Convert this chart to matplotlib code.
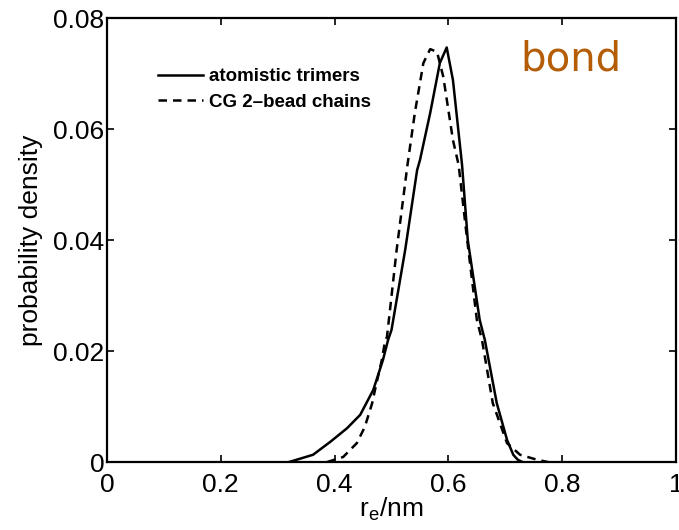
import matplotlib
matplotlib.use("Agg")
import matplotlib.pyplot as plt

plt.rcParams["font.family"] = ["Liberation Sans", "DejaVu Sans"]

# end-to-end distance distributions (r_e in nm)
r_atomistic = [0.32, 0.362, 0.392, 0.422, 0.445, 0.468, 0.485, 0.494, 0.50,
               0.524, 0.545, 0.55, 0.568, 0.585, 0.597, 0.608, 0.624, 0.634,
               0.655, 0.664, 0.685, 0.703, 0.714, 0.722, 0.73]
p_atomistic = [0.0, 0.0013, 0.0036, 0.0061, 0.0085, 0.013, 0.0184, 0.022, 0.0238,
               0.0382, 0.0526, 0.0544, 0.0629, 0.0719, 0.0747, 0.0688, 0.0535, 0.040,
               0.0256, 0.022, 0.0106, 0.004, 0.0013, 0.0004, 0.0]

r_cg = [0.387, 0.415, 0.439, 0.453, 0.466, 0.471, 0.483, 0.489, 0.492, 0.509,
        0.528, 0.541, 0.556, 0.568, 0.58, 0.591, 0.608, 0.618, 0.633, 0.650,
        0.659, 0.678, 0.703, 0.726, 0.756, 0.775]
p_cg = [0.0, 0.0009, 0.0034, 0.0063, 0.0106, 0.013, 0.0184, 0.022, 0.0225, 0.0382,
        0.0535, 0.0629, 0.0719, 0.0744, 0.0739, 0.0694, 0.058, 0.0535, 0.040, 0.0256,
        0.022, 0.0106, 0.0034, 0.0013, 0.0004, 0.0]

x_ticks = [0, 0.2, 0.4, 0.6, 0.8, 1]
x_labels = ["0", "0.2", "0.4", "0.6", "0.8", "1"]
y_ticks = [0, 0.02, 0.04, 0.06, 0.08]
y_labels = ["0", "0.02", "0.04", "0.06", "0.08"]

fig = plt.figure(figsize=(6.79, 5.30), dpi=100)
ax = fig.add_axes([0.1576, 0.1283, 0.838, 0.8377])

ax.plot(r_atomistic, p_atomistic, "-", color="black", lw=1.8,
        label="atomistic trimers")
ax.plot(r_cg, p_cg, "--", color="black", lw=1.8, dashes=(3.4, 2.4),
        label="CG 2\u2013bead chains")

ax.set_xlim(0, 1)
ax.set_ylim(0, 0.08)
ax.set_xticks(x_ticks)
ax.set_xticklabels(x_labels)
ax.set_yticks(y_ticks)
ax.set_yticklabels(y_labels)
ax.tick_params(direction="in", length=5, width=1.2, top=True, right=True,
               labelsize=19, pad=2)
ax.tick_params(axis="x", pad=8)
for sp in ax.spines.values():
    sp.set_linewidth(1.6)

ax.set_xlabel(r"r$_\mathregular{e}$/nm", fontsize=19, labelpad=-1)
ax.set_ylabel("probability density", fontsize=19, labelpad=7)

leg = ax.legend(loc="upper left", bbox_to_anchor=(0.06, 0.925), frameon=False,
                handlelength=2.4, handletextpad=0.3, labelspacing=0.45,
                prop={"weight": "bold", "size": 13.5})

ax.text(0.815, 0.907, "bond", transform=ax.transAxes, ha="center", va="center",
        fontsize=29, color="#b55d06", family="DejaVu Sans")

fig.savefig("out.png", dpi=100)
